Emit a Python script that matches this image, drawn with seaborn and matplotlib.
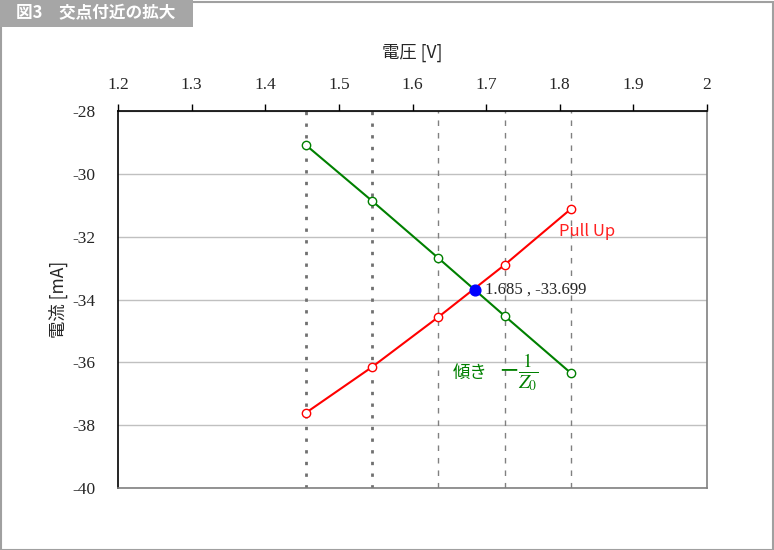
import numpy as np
import pandas as pd
import matplotlib
matplotlib.use("Agg")
import matplotlib.pyplot as plt
from matplotlib.patches import Rectangle
import seaborn as sns

# values
voltage = [1.455, 1.545, 1.635, 1.725, 1.815]
current_line = [-29.08, -30.86, -32.68, -34.52, -36.34]   # green, slope -1/Z0
current_pullup = [-37.61, -36.15, -34.56, -32.90, -31.12]  # red, Pull Up
cross_v = 1.685
cross_i = -33.699
x_ticks = [1.2, 1.3, 1.4, 1.5, 1.6, 1.7, 1.8, 1.9, 2.0]
x_tick_labels = ["1.2", "1.3", "1.4", "1.5", "1.6", "1.7", "1.8", "1.9", "2"]
y_ticks = [-40, -38, -36, -34, -32, -30, -28]

sns.set_style("white")
plt.rcParams["font.family"] = ["Noto Sans CJK JP", "DejaVu Sans"]
plt.rcParams["mathtext.fontset"] = "stix"
plt.rcParams["axes.unicode_minus"] = False

df = pd.DataFrame({"V": voltage, "line": current_line, "pullup": current_pullup})

fig = plt.figure(figsize=(7.74, 5.50), dpi=100)
ax = fig.add_axes([118 / 774, 1 - 488 / 550, (707 - 118) / 774, (488 - 111) / 550])

# vertical guide lines at each measured voltage
for i, v in enumerate(voltage):
    if i < 2:
        ax.axvline(v, color="#707070", lw=2.0, ls=(0, (1.2, 3.0)), zorder=1)
    else:
        ax.axvline(v, color="#808080", lw=1.0, ls=(0, (4, 5)), zorder=1)

sns.lineplot(data=df, x="V", y="line", color="#008000", lw=1.5, marker="o",
             markersize=6, markerfacecolor="white", markeredgecolor="#008000",
             markeredgewidth=1.0, ax=ax, zorder=3)
sns.lineplot(data=df, x="V", y="pullup", color="#ff0000", lw=1.5, marker="o",
             markersize=6, markerfacecolor="white", markeredgecolor="#ff0000",
             markeredgewidth=1.0, ax=ax, zorder=3)
ax.scatter([cross_v], [cross_i], s=60, color="#0000ff", zorder=5)

ax.text(cross_v + 0.0135, cross_i, f"{cross_v} , {cross_i}", fontsize=12,
        family="Liberation Serif", va="center", ha="left")
ax.text(1.799, -31.85, "Pull Up", color="#ff2020", fontsize=12, va="center", ha="left")
ax.text(1.654, -36.34, "傾き", color="#008000", fontsize=12.5, va="center", ha="left")
ax.text(1.717, -36.3, r"$-\frac{1}{Z_0}$", color="#008000", fontsize=20,
        va="center", ha="left")

ax.set_xlim(1.2, 2.0)
ax.set_ylim(-40, -28)
ax.set_xticks(x_ticks)
ax.set_xticklabels(x_tick_labels)
ax.set_yticks(y_ticks)
ax.xaxis.tick_top()
ax.xaxis.set_label_position("top")
ax.tick_params(axis="x", direction="out", length=5, width=1, color="black", pad=8,
               labelsize=12.5)
ax.tick_params(axis="y", length=0, pad=16, labelsize=12.5)
for lab in ax.get_xticklabels() + ax.get_yticklabels():
    lab.set_family("Liberation Serif")
ax.yaxis.grid(True, color="#c0c0c0", lw=1)
ax.xaxis.grid(False)

ax.set_xlabel("電圧 [V]", fontsize=12.5, labelpad=14)
ax.set_ylabel("電流 [mA]", fontsize=12.5, labelpad=3)

for side in ["top", "left"]:
    ax.spines[side].set_color("black")
    ax.spines[side].set_linewidth(1.2)
for side in ["bottom", "right"]:
    ax.spines[side].set_color("#808080")
    ax.spines[side].set_linewidth(1.2)

# figure frame and title banner
fig.patches.append(Rectangle((0.5 / 774, 0.5 / 550), 772 / 774, 548 / 550, transform=fig.transFigure,
                             fill=False, edgecolor="#a0a0a0", lw=1.5))
fig.patches.append(Rectangle((0, 1 - 27 / 550), 193 / 774, 27 / 550, transform=fig.transFigure,
                             facecolor="#a6a6a6", edgecolor="none"))
fig.text(16 / 774, 1 - 13.5 / 550, "図3　交点付近の拡大", color="white", fontsize=12,
         fontweight="bold", va="center", ha="left")

fig.savefig("out.png", dpi=100)
